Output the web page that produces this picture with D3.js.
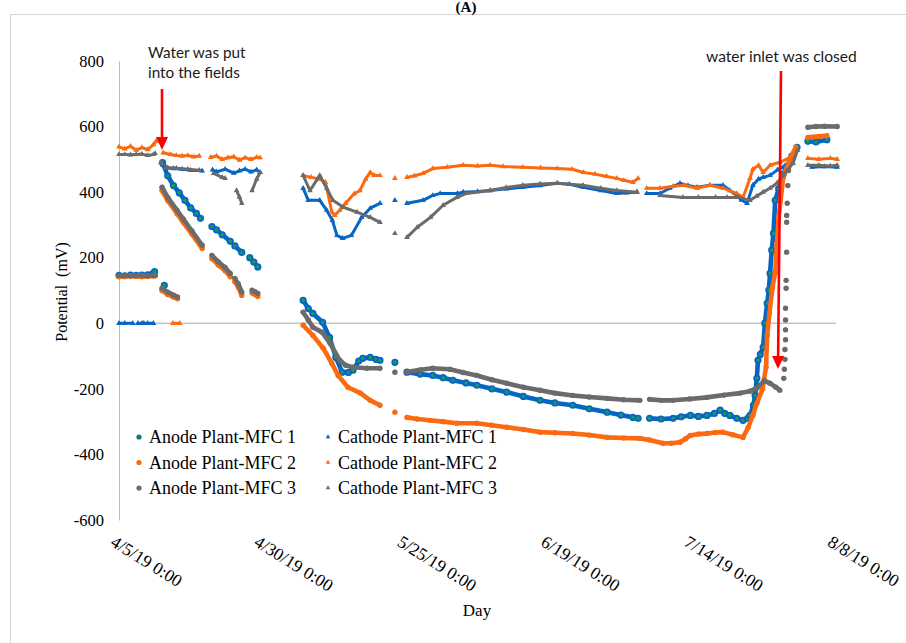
<!DOCTYPE html>
<html>
<head>
<meta charset="utf-8">
<script src="https://cdn.jsdelivr.net/npm/d3@7"></script>
<style>
body { margin: 0; background: #fff; }
</style>
</head>
<body>
<svg width="906" height="643"></svg>
<script>
// day offsets from 4/5/19, values in mV ; null = gap in the logging
var anode1 = [
  [0,146],[1,145],[2,147],[3,146],[4,147],[5,148],[5.8,150],[6.2,158],null,
  [7.9,116],null,
  [7.6,490],[8.5,450],[9.5,420],[10.5,398],[11.5,375],[12.5,352],[13.5,335],[14.2,320],null,
  [16.2,295],[17,285],[18,270],[19.4,250],null,
  [20.2,236],[21.4,216],null,
  [22.8,200],[23.5,187],[24.2,172],null,
  [32.1,70],[33,45],[33.8,30],[35.5,3],[36.7,-43],[37.8,-104],[38.9,-149],[40,-150],[40.8,-143],[41.8,-115],[42.5,-107],[43.8,-104],[44.8,-110],[45.5,-113],null,
  [48.1,-119],null,
  [50.2,-149],[52.5,-155],[54.7,-159],[56.5,-166],[58.2,-174],[60.5,-182],[62.4,-189],[65,-200],[67.6,-210],[70.5,-223],[73.4,-235],[76,-243],[79.1,-250],[82,-261],[85.1,-271],[87.5,-280],[89.6,-287],[90.5,-290],null,
  [92.5,-290],[94.5,-292],[96.6,-290],[98,-285],[99.6,-281],[101,-284],[102.5,-281],[103.8,-275],[104.8,-265],[105.6,-275],[106.5,-281],[107.7,-290],[108.8,-296],[109.6,-290],[110,-281],[110.6,-250],[110.9,-220],[111.2,-168],[111.4,-113],[111.8,-95],[112.3,-73],[112.6,0],[113,61],[113.3,101],[113.5,152],[113.8,223],[114.1,274],[114.4,375],[115,410],[115.8,455],[116.5,480],[117.3,510],[118.2,537],null,
  [120.1,555],[121.5,553],[123.4,560]
];

var anode2 = [
  [0,142],[1,143],[2,144],[3,143],[4,142],[5,143],[6,144],[6.3,145],null,
  [7.5,100],[8.5,88],[9.5,80],[10.2,75],null,
  [7.5,405],[8.5,374],[10.1,335],[11.2,308],[12.7,272],[14.5,228],null,
  [16.2,197],[17.3,178],[18.5,160],[19.4,142],null,
  [20.2,127],[20.8,110],[21.4,85],null,
  [23.2,92],[23.7,88],[24.2,82],null,
  [32.1,-6],[33.8,-37],[35.6,-76],[37.1,-122],[38.2,-159],[39.9,-195],[42.1,-213],[43.8,-235],[45.5,-250],null,
  [48.1,-271],null,
  [50.2,-287],[52,-292],[54.2,-296],[56.5,-300],[58.9,-305],[62.4,-305],[65,-311],[67.6,-317],[70.5,-324],[73.4,-332],[76,-334],[79.1,-336],[82,-341],[85.1,-348],[88,-350],[90.8,-351],[92.5,-356],[94.8,-366],[96.3,-366],[97.8,-363],[98.8,-352],[99.6,-342],[101,-338],[102.5,-336],[104,-333],[105.3,-332],[107,-340],[108.8,-348],[109.7,-317],[110.5,-281],[111.2,-244],[112.2,-200],[112.8,-134],[113,-37],[113.4,30],[113.9,107],[114.4,156],[114.7,244],[115,323],[115.8,445],[117,503],[118,537],null,
  [120.1,567],[122,570],[123.4,572]
];

var anode3 = [
  [0,146],[1,146],[2,145],[3,146],[4,146],[5,145],[6,146],[6.3,146],null,
  [7.5,107],[8.5,95],[9.5,86],[10.2,80],null,
  [7.5,415],[8.5,384],[10.1,345],[11.2,318],[12.7,282],[14.5,238],null,
  [16.2,207],[17.3,188],[18.5,170],[19.4,152],null,
  [20.2,137],[20.8,120],[21.4,95],null,
  [23.2,101],[23.7,96],[24.2,91],null,
  [32.1,34],[33,10],[33.8,-12],[35.4,-27],[36.8,-61],[38.5,-113],[39.5,-128],[40.8,-134],[43.2,-137],[45.5,-137],null,
  [48.1,-149],null,
  [50.2,-149],[52.5,-142],[54.7,-137],[57.7,-140],[60,-150],[62.4,-159],[65,-172],[67.6,-183],[70.5,-195],[73.4,-204],[76,-213],[79.1,-220],[82,-225],[85.1,-229],[88,-233],[90.8,-235],null,
  [92.5,-232],[94.5,-235],[96.6,-235],[99.5,-231],[102.5,-226],[105.5,-219],[108.3,-213],[110,-207],[111.2,-198],[112.5,-175],[113.5,-183],[114.5,-195],[115.2,-204],null,
  [115.9,-168],null,[116,-140],null,[116.1,-110],null,[116.1,-80],null,[116.2,-50],null,[116.2,-20],null,[116.2,10],null,[116.2,46],null,[116.3,107],null,[116.3,131],null,[116.4,217],null,[116.4,308],null,[116.4,329],null,[116.5,366],null,[116.6,420],null,[116.7,466],null,
  [120.1,598],[121.5,600],[123,601],[125.2,600]
];

var cathode1 = [
  [0,0],[1,0],[2.4,0],null,[3.3,0],[4,0],null,[4.3,0],[5,0],[6,0],null,
  [7.7,482],[8.5,474],[9.5,472],[11,470],[12.5,467],[14.5,465],null,
  [16.3,468],[17,462],[18.5,470],[20,458],[21,465],[22,470],[23,462],[24,468],[24.6,460],null,
  [32.1,412],[33,375],[35,375],[36.2,345],[37.2,314],[38,268],[39,259],[40.5,268],[42.3,323],[43.8,351],[45.5,366],null,
  [48.1,375],null,
  [50.2,366],[53,375],[54.7,390],[56,396],[59,396],[60,400],[62.5,402],[64.7,405],[67.5,410],[70.4,415],[73.4,420],[76.4,427],[78.5,424],[80.9,415],[84,405],[86.8,396],[88.5,398],[90.3,400],null,
  [92,396],[94.3,396],[96,412],[97.8,427],[99.2,420],[100.8,415],[103,421],[105.3,421],[106.5,405],[107.7,390],[108.5,376],[109.5,366],[110.5,421],[111.5,440],[112.3,445],[113.5,451],[114.8,468],[115.8,476],[117.5,488],null,
  [120.8,476],[123,478],[125.2,476]
];

var cathode2 = [
  [0,538],[1,532],[2,540],[3,528],[4,536],[5,530],[6,545],[6.5,556],null,
  [7.7,520],[9,515],[10,512],[11,510],[12,512],[13,508],[14,510],null,
  [16,506],[17,510],[18,500],[19,505],[20,508],[21,498],[22,505],[23,500],[24,506],[24.6,505],null,
  [9.4,0],[10.6,0],null,
  [32.1,451],[33.5,445],[35,440],[36,430],[37.1,340],[37.6,329],[38.5,345],[39.5,366],[41,395],[42,405],[43,440],[43.8,460],[44.5,451],[45.5,451],null,
  [48.1,442],null,
  [50.2,445],[51.5,450],[53,457],[54.7,472],[57.2,476],[60,482],[62.5,480],[64.7,482],[67,478],[70.4,476],[73.5,474],[76.4,472],[79,470],[81,460],[83,455],[85,448],[86.8,442],[88,436],[89.6,430],[90.5,442],null,
  [92,412],[94.3,412],[96.6,418],[98.5,421],[100.8,412],[103,421],[105.3,412],[107.7,396],[108.8,384],[110,442],[110.5,470],[111.5,482],[112.3,460],[113.5,482],[115.2,491],[117,506],[118.2,528],null,
  [120.1,503],[122,500],[124,503],[125.2,500]
];

var cathode3 = [
  [0,515],[1,515],[2,514],[3,515],[4,516],[5,512],[6,515],[6.3,518],null,
  [7.3,491],[7.6,486],null,
  [8.2,475],[10,473],[12,470],[14,467],null,
  [16.5,457],[18,445],[18.5,442],null,
  [20.5,405],[21,385],[21.4,366],null,
  [23.2,405],[24,440],[24.6,460],null,
  [32.1,451],[33.3,405],[35,451],[36.2,412],[37.3,375],[39.1,354],[41.5,339],[43.8,323],[45.5,308],null,
  [48.1,274],null,
  [50.2,262],[52,293],[54.3,323],[56.5,360],[58.9,384],[60.6,396],[64.7,405],[67.5,414],[70.4,421],[73.4,425],[76.4,427],[80.9,421],[84,412],[86.8,405],[90.3,400],null,
  [94.3,390],[98.3,384],[101,384],[104,384],[106,384],[108,384],[110,375],[111.2,388],[112.3,400],[113.5,412],[114.7,427],[115.8,451],[117.5,488],[118.3,528],null,
  [120.1,482],[122,482],[124,480],[125.2,482]
];

var seriesNames = ["Anode Plant-MFC 1", "Cathode Plant-MFC 1", "Anode Plant-MFC 2",
                   "Cathode Plant-MFC 2", "Anode Plant-MFC 3", "Cathode Plant-MFC 3"];
var xTickDays = [0, 25, 50, 75, 100, 125];
var xTickLabels = ["4/5/19 0:00", "4/30/19 0:00", "5/25/19 0:00", "6/19/19 0:00", "7/14/19 0:00", "8/8/19 0:00"];
var yTicks = [-600, -400, -200, 0, 200, 400, 600, 800];

var startMs = Date.UTC(2019, 3, 5);
function toDate(day) { return new Date(startMs + day * 864e5); }

var blue = "#0566c6", orange = "#fb6a10", gray = "#6b6b6b", green = "#1f9a4a";

var series = [
  {name: seriesNames[0], data: anode1,   color: blue,   kind: "anode", fill: green},
  {name: seriesNames[1], data: cathode1, color: blue,   kind: "cathode"},
  {name: seriesNames[2], data: anode2,   color: orange, kind: "anode"},
  {name: seriesNames[3], data: cathode2, color: orange, kind: "cathode"},
  {name: seriesNames[4], data: anode3,   color: gray,   kind: "anode"},
  {name: seriesNames[5], data: cathode3, color: gray,   kind: "cathode"}
];

var svg = d3.select("svg");
var serif = "'Liberation Serif', 'Times New Roman', serif";

// chart frame
svg.append("rect")
  .attr("x", 10.5).attr("y", 14.5)
  .attr("width", 940).attr("height", 680)
  .attr("fill", "none").attr("stroke", "#d6d6d6");

svg.append("text")
  .attr("x", 466).attr("y", 12)
  .attr("text-anchor", "middle")
  .attr("font-family", serif).attr("font-weight", "bold").attr("font-size", 15)
  .text("(A)");

var x = d3.scaleUtc().domain([toDate(0), toDate(125)]).range([119, 836]);
var y = d3.scaleLinear().domain([-600, 800]).range([520, 61]);

// y axis
svg.append("g")
  .attr("transform", "translate(119,0)")
  .call(d3.axisLeft(y).tickValues(yTicks).tickSize(0).tickSizeOuter(0).tickPadding(15)
    .tickFormat(function(d) { return String(d); }))
  .call(function(g) {
    g.select(".domain").attr("stroke", "#bdbdbd");
    g.selectAll("text").attr("font-family", serif).attr("font-size", 16.5).attr("fill", "#000");
  });

// zero line
svg.append("line")
  .attr("x1", x(toDate(0))).attr("x2", x(toDate(125)))
  .attr("y1", y(0)).attr("y2", y(0))
  .attr("stroke", "#c4c4c4").attr("stroke-width", 1.5);

// x axis labels
svg.append("g")
  .attr("transform", "translate(0,540)")
  .call(d3.axisBottom(x).tickValues(xTickDays.map(toDate)).tickSize(0)
    .tickFormat(function(d, i) { return xTickLabels[i]; }))
  .call(function(g) {
    g.select(".domain").remove();
    g.selectAll("text")
      .attr("font-family", serif).attr("font-size", 17.5).attr("fill", "#000")
      .attr("text-anchor", "start")
      .attr("x", 0).attr("y", 0).attr("dy", null)
      .attr("transform", "translate(-10,5) rotate(32)");
  });

svg.append("text")
  .attr("x", 477).attr("y", 616)
  .attr("text-anchor", "middle")
  .attr("font-family", serif).attr("font-size", 17)
  .text("Day");

svg.append("text")
  .attr("transform", "translate(67,292) rotate(-90)")
  .attr("text-anchor", "middle")
  .attr("font-family", serif).attr("font-size", 16)
  .attr("xml:space", "preserve")
  .text("Potential  (mV)");

var line = d3.line()
  .defined(function(d) { return d !== null; })
  .x(function(d) { return x(toDate(d[0])); })
  .y(function(d) { return y(d[1]); });

var tri = d3.symbol().type(d3.symbolTriangle).size(14);

series.forEach(function(s) {
  var g = svg.append("g");
  var pts = s.data.filter(function(d) { return d !== null; });
  g.append("path")
    .attr("d", line(s.data))
    .attr("fill", "none")
    .attr("stroke", s.color)
    .attr("stroke-width", s.kind == "anode" ? 4.6 : 3)
    .attr("stroke-linecap", "round")
    .attr("stroke-linejoin", "round");
  if (s.kind == "anode") {
    g.selectAll("circle")
      .data(pts)
      .enter()
      .append("circle")
      .attr("cx", function(d) { return x(toDate(d[0])); })
      .attr("cy", function(d) { return y(d[1]); })
      .attr("r", 2.7)
      .attr("fill", s.fill || s.color)
      .attr("stroke", s.color)
      .attr("stroke-width", s.fill ? 1.8 : 0);
  } else {
    g.selectAll("path.m")
      .data(pts)
      .enter()
      .append("path")
      .attr("class", "m")
      .attr("d", tri)
      .attr("transform", function(d) { return "translate(" + x(toDate(d[0])) + "," + y(d[1]) + ")"; })
      .attr("fill", s.color);
  }
});

// legend, two columns
var legend = svg.append("g").attr("class", "legend");
var legendItems = legend.selectAll("g")
  .data(series)
  .enter()
  .append("g")
  .attr("transform", function(d, i) {
    return "translate(" + (i % 2 == 0 ? 139 : 328) + "," + (437 + Math.floor(i / 2) * 25.5) + ")";
  });

legendItems.each(function(d) {
  var g = d3.select(this);
  if (d.kind == "anode") {
    g.append("circle").attr("r", 2.6)
      .attr("fill", d.fill ? "#137a78" : d.color);
  } else {
    g.append("path").attr("d", d3.symbol().type(d3.symbolTriangle).size(9)).attr("fill", d.color);
  }
  g.append("text")
    .attr("x", 10).attr("y", 6)
    .attr("font-family", serif).attr("font-size", 18).attr("fill", "#000")
    .text(d.name);
});

// annotations
var sans = "Lato, 'Open Sans', sans-serif";
svg.append("text").attr("x", 148).attr("y", 58)
  .attr("font-family", sans).attr("font-size", 15.3).attr("fill", "#1a1a1a")
  .text("Water was put");
svg.append("text").attr("x", 148).attr("y", 78)
  .attr("font-family", sans).attr("font-size", 15.3).attr("fill", "#1a1a1a")
  .text("into the fields");
svg.append("text").attr("x", 706).attr("y", 62)
  .attr("font-family", sans).attr("font-size", 15.6).attr("fill", "#1a1a1a")
  .text("water inlet was closed");

function arrow(x1, y1, x2, y2) {
  var ang = Math.atan2(y2 - y1, x2 - x1);
  var hl = 13, hw = 6;
  var bx = x2 - hl * Math.cos(ang), by = y2 - hl * Math.sin(ang);
  svg.append("line")
    .attr("x1", x1).attr("y1", y1).attr("x2", bx).attr("y2", by)
    .attr("stroke", "#ff0000").attr("stroke-width", 2.6);
  svg.append("polygon")
    .attr("points", [
      [x2, y2],
      [bx + hw * Math.sin(ang), by - hw * Math.cos(ang)],
      [bx - hw * Math.sin(ang), by + hw * Math.cos(ang)]
    ].map(function(p) { return p.join(","); }).join(" "))
    .attr("fill", "#ff0000");
}
arrow(162, 89, 162, 150);
arrow(781, 71, 778, 369);
</script>
</body>
</html>
